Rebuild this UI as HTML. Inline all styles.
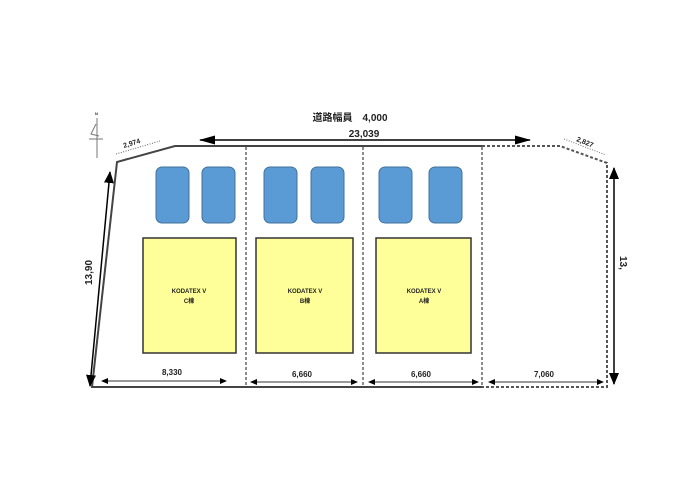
<!DOCTYPE html>
<html><head><meta charset="utf-8"><style>
html,body{margin:0;padding:0;background:#fff;width:700px;height:493px;overflow:hidden}
svg{display:block}
text{font-family:"Liberation Sans","Noto Sans CJK JP",sans-serif;font-weight:bold;fill:#222}
</style></head><body>
<svg width="700" height="493" viewBox="0 0 700 493" xmlns="http://www.w3.org/2000/svg">
<defs>
<marker id="ab" markerWidth="7" markerHeight="6" refX="6" refY="3" orient="auto-start-reverse" markerUnits="userSpaceOnUse"><path d="M0,0 L7,3 L0,6z" fill="#000"/></marker>
<marker id="AB" markerWidth="16" markerHeight="9" refX="15" refY="4.5" orient="auto-start-reverse" markerUnits="userSpaceOnUse"><path d="M0,0 L16,4.5 L0,9z" fill="#000"/></marker>
<marker id="AV" markerWidth="12" markerHeight="10" refX="11" refY="5" orient="auto-start-reverse" markerUnits="userSpaceOnUse"><path d="M0,0 L12,5 L0,10z" fill="#000"/></marker>
</defs>
<polyline points="482,146 175,146 117,162 92,387 482,387" fill="none" stroke="#444" stroke-width="2"/>
<polyline points="482,146 560,146 607,163 607,387 482,387" fill="none" stroke="#555" stroke-width="2" stroke-dasharray="3,2"/>
<line x1="246" y1="147" x2="246" y2="386" stroke="#666" stroke-width="1.5" stroke-dasharray="3,2"/>
<line x1="363" y1="147" x2="363" y2="386" stroke="#666" stroke-width="1.5" stroke-dasharray="3,2"/>
<line x1="482" y1="147" x2="482" y2="386" stroke="#666" stroke-width="1.5" stroke-dasharray="3,2"/>
<g fill="#5b9bd5" stroke="#41719c" stroke-width="1">
<rect x="156" y="167" width="33" height="56" rx="6"/>
<rect x="202" y="167" width="33" height="56" rx="6"/>
<rect x="264" y="167" width="33" height="56" rx="6"/>
<rect x="311" y="167" width="33" height="56" rx="6"/>
<rect x="379" y="167" width="33" height="56" rx="6"/>
<rect x="429" y="167" width="33" height="56" rx="6"/>
</g>
<g fill="#ffff99" stroke="#333" stroke-width="1.5">
<rect x="143" y="238" width="93" height="115"/>
<rect x="256" y="238" width="97" height="115"/>
<rect x="376" y="238" width="95" height="115"/>
</g>
<g font-size="6" text-anchor="middle">
<text x="189" y="293">KODATEX V</text><text x="189" y="303">C棟</text>
<text x="305" y="293">KODATEX V</text><text x="305" y="303">B棟</text>
<text x="424" y="293">KODATEX V</text><text x="424" y="303">A棟</text>
</g>
<text x="350" y="121" font-size="10" text-anchor="middle">道路幅員　4,000</text>
<line x1="200" y1="140" x2="530" y2="140" stroke="#000" stroke-width="1.5" marker-start="url(#AB)" marker-end="url(#AB)"/>
<text x="364" y="137" font-size="10" text-anchor="middle">23,039</text>
<line x1="116" y1="154" x2="160" y2="141" stroke="#666" stroke-width="1" stroke-dasharray="1,1.5"/>
<text x="0" y="0" font-size="7" transform="translate(124,148) rotate(-17)">2,974</text>
<line x1="564" y1="139" x2="606" y2="155" stroke="#777" stroke-width="1" stroke-dasharray="1,1.5"/>
<text x="0" y="0" font-size="7" transform="translate(576,141) rotate(22)">2,827</text>
<line x1="110" y1="172" x2="90" y2="386" stroke="#000" stroke-width="1.5" marker-start="url(#AV)" marker-end="url(#AV)"/>
<text x="0" y="0" font-size="10" transform="translate(92,285) rotate(-90)">13,90</text>
<line x1="614" y1="168" x2="614" y2="384" stroke="#000" stroke-width="1.5" marker-start="url(#AV)" marker-end="url(#AV)"/>
<text x="0" y="0" font-size="10" transform="translate(620,256) rotate(90)">13,</text>
<g stroke="#333" stroke-width="1">
<line x1="102" y1="381" x2="226" y2="381" marker-start="url(#ab)" marker-end="url(#ab)"/>
<line x1="251" y1="382" x2="357" y2="382" marker-start="url(#ab)" marker-end="url(#ab)"/>
<line x1="369" y1="382" x2="478" y2="382" marker-start="url(#ab)" marker-end="url(#ab)"/>
<line x1="489" y1="382" x2="603" y2="382" marker-start="url(#ab)" marker-end="url(#ab)"/>
</g>
<g font-size="8" text-anchor="middle">
<text x="172" y="375">8,330</text>
<text x="302" y="377">6,660</text>
<text x="421" y="377">6,660</text>
<text x="544" y="377">7,060</text>
</g>
<g stroke="#777" stroke-width="1" fill="none">
<line x1="97" y1="118" x2="97" y2="158"/>
<line x1="89" y1="139" x2="103" y2="139"/>
<polyline points="96,124 91,134 99,136"/>
</g>
<text x="95" y="115" font-size="4">N</text>
</svg>
</body></html>
